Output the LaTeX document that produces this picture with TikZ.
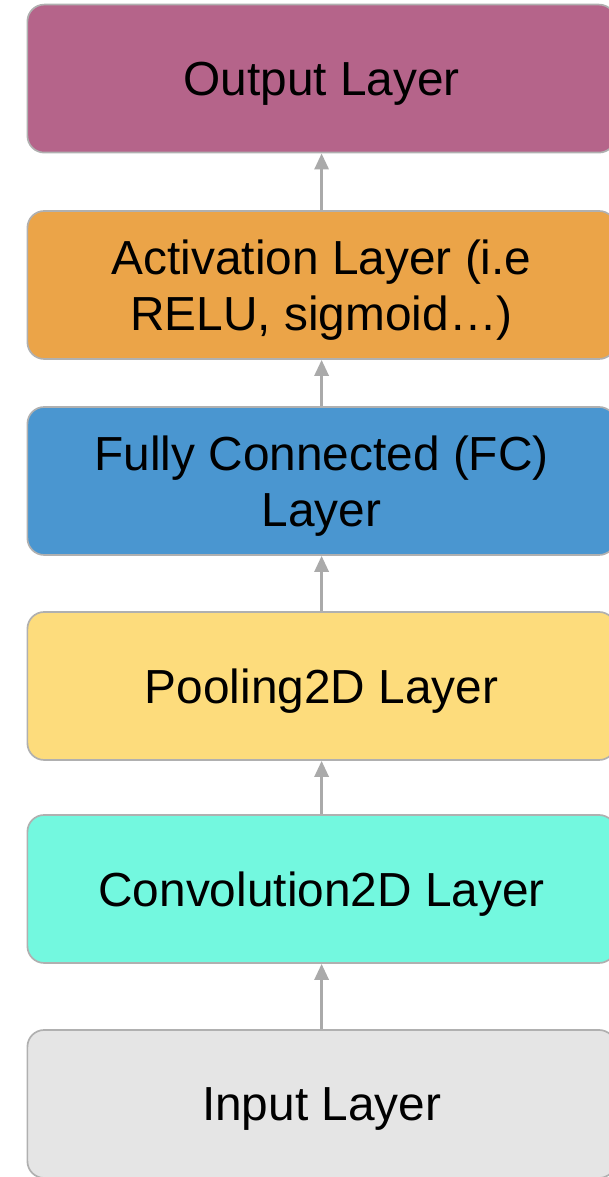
\documentclass[tikz,border=0pt]{standalone}
\usepackage{fontspec}
\setmainfont{Liberation Sans}
\usepackage{tikz}
\usetikzlibrary{arrows.meta}

\definecolor{outputc}{HTML}{B5648A}
\definecolor{actc}{HTML}{EBA448}
\definecolor{fcc}{HTML}{4A96D0}
\definecolor{poolc}{HTML}{FDDC7C}
\definecolor{convc}{HTML}{73F8DF}
\definecolor{inputc}{HTML}{E5E5E5}
\definecolor{edgec}{HTML}{B0B0B0}
\definecolor{arrowc}{HTML}{AAAAAA}

\tikzset{
  layerbox/.style={draw=edgec,line width=1.2pt,rounded corners=0.42cm,
    minimum width=14.71cm,minimum height=3.7cm,align=center,inner sep=0pt,
    text depth=-0.1cm,font=\fontsize{34}{40}\selectfont},
  flow/.style={-{Triangle[width=0.35cm,length=0.4cm]},arrowc,line width=2.1pt}
}

\begin{document}
\begin{tikzpicture}
        \useasboundingbox (0,0) rectangle (15.225,29.425);
        \node[layerbox,fill=outputc] (out) at (8.04,27.46) {Output Layer}; %出力
        \node[layerbox,fill=actc] (act) at (8.04,22.3) {Activation Layer (i.e\\RELU, sigmoid…)}; %活性化
        \node[layerbox,fill=fcc] (fc) at (8.04,17.4) {Fully Connected (FC)\\Layer}; %全結合
        \node[layerbox,fill=poolc] (pool) at (8.04,12.275) {Pooling2D Layer}; %プーリング
        \node[layerbox,fill=convc] (conv) at (8.04,7.2) {Convolution2D Layer}; %畳み込み
        \node[layerbox,fill=inputc] (in) at (8.04,1.825) {Input Layer}; %入力
        \draw[flow] (in) --(conv);
        \draw[flow] (conv) --(pool);
        \draw[flow] (pool) --(fc);
        \draw[flow] (fc) --(act);
        \draw[flow] (act) --(out);
    \end{tikzpicture}
\end{document}
